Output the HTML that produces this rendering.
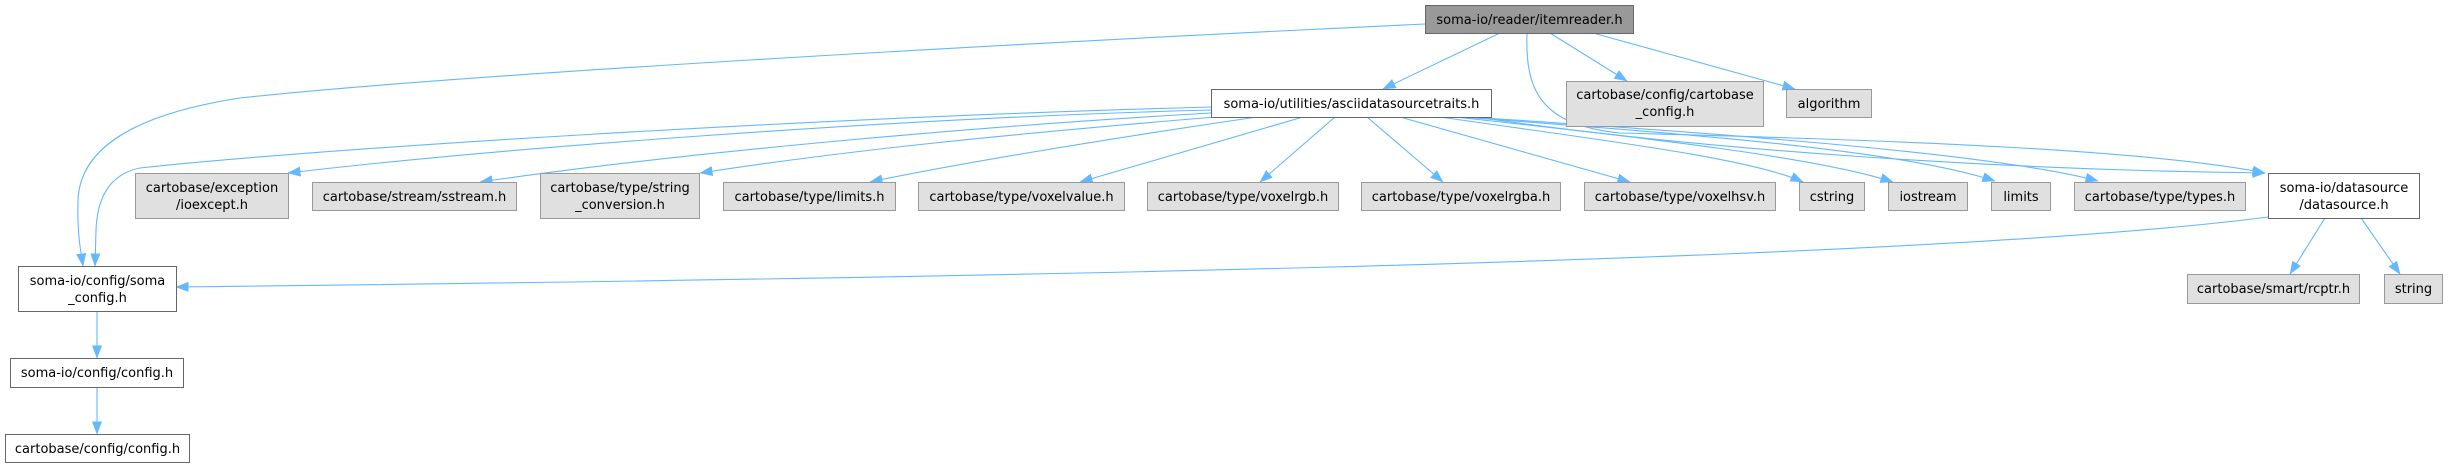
<!DOCTYPE html>
<html>
<head>
<meta charset="utf-8">
<style>
  html, body { margin: 0; padding: 0; background: #ffffff; }
  body { width: 2448px; height: 468px; overflow: hidden; }
  svg { display: block; }
  text { font-family: "DejaVu Sans", "Liberation Sans", sans-serif; font-size: 13px; fill: #000; }
  .e { fill: none; stroke: #63b8ff; stroke-width: 1.1; }
  .root { fill: #999999; stroke: #666666; stroke-width: 1; }
  .grey { fill: #e0e0e0; stroke: #999999; stroke-width: 1; }
  .white { fill: #ffffff; stroke: #666666; stroke-width: 1; }
</style>
</head>
<body>
<svg width="2448" height="468" viewBox="0 0 2448 468" xmlns="http://www.w3.org/2000/svg">
  <defs>
    <marker id="a" markerUnits="userSpaceOnUse" markerWidth="13" markerHeight="10" refX="12.5" refY="4.75" orient="auto">
      <path d="M0,0 L12.5,4.75 L0,9.5 z" fill="#63b8ff" stroke="#63b8ff" stroke-width="0.5"/>
    </marker>
  </defs>

  <!-- edges -->
  <g>
    <path class="e" marker-end="url(#a)" d="M1500,33 L1383,89"/>
    <path class="e" marker-end="url(#a)" d="M1550,33 L1627,81"/>
    <path class="e" marker-end="url(#a)" d="M1593,33 L1795,89"/>
    <path class="e" marker-end="url(#a)" d="M1425,24 C1000,44 450,75 240,98 C130,115 80,150 78,200 C77,235 81,252 83,266"/>
    <path class="e" marker-end="url(#a)" d="M1211,107 C800,118 300,150 140,168 C105,175 97,205 96,230 L95,266"/>
    <path class="e" marker-end="url(#a)" d="M1211,110 C900,118 500,148 288,173"/>
    <path class="e" marker-end="url(#a)" d="M1211,113 C1000,125 700,150 480,182"/>
    <path class="e" marker-end="url(#a)" d="M1215,117 C1000,135 850,150 700,173"/>
    <path class="e" marker-end="url(#a)" d="M1257,117 C1100,140 950,165 870,182"/>
    <path class="e" marker-end="url(#a)" d="M1303,117 L1080,182"/>
    <path class="e" marker-end="url(#a)" d="M1335,117 L1260,182"/>
    <path class="e" marker-end="url(#a)" d="M1367,117 L1443,182"/>
    <path class="e" marker-end="url(#a)" d="M1400,117 L1630,182"/>
    <path class="e" marker-end="url(#a)" d="M1440,117 C1600,140 1750,158 1803,182"/>
    <path class="e" marker-end="url(#a)" d="M1455,117 C1650,138 1820,158 1893,182"/>
    <path class="e" marker-end="url(#a)" d="M1462,117 C1700,135 1900,150 1995,181"/>
    <path class="e" marker-end="url(#a)" d="M1468,117 C1750,135 2000,155 2098,181"/>
    <path class="e" marker-end="url(#a)" d="M1475,117 C1700,150 2000,170 2265,173"/>
    <path class="e" marker-end="url(#a)" d="M1527,33 C1525,90 1540,125 1620,133 C1900,140 2150,150 2265,173"/>
    <path class="e" marker-end="url(#a)" d="M2268,217 C1900,265 800,280 176,287"/>
    <path class="e" marker-end="url(#a)" d="M2325,218 L2290,274"/>
    <path class="e" marker-end="url(#a)" d="M2361,218 L2400,274"/>
    <path class="e" marker-end="url(#a)" d="M97,311 L97,358"/>
    <path class="e" marker-end="url(#a)" d="M97,387 L97,434"/>
  </g>

  <!-- nodes -->
  <g>
    <rect class="root" x="1425.5" y="5.5" width="208" height="28"/>
    <text x="1529.5" y="24" text-anchor="middle">soma-io/reader/itemreader.h</text>

    <rect class="white" x="1211.5" y="89.5" width="280" height="28"/>
    <text x="1351.5" y="108" text-anchor="middle">soma-io/utilities/asciidatasourcetraits.h</text>

    <rect class="grey" x="1566.5" y="81.5" width="197" height="45"/>
    <text x="1665" y="99" text-anchor="middle">cartobase/config/cartobase</text>
    <text x="1665" y="116" text-anchor="middle">_config.h</text>

    <rect class="grey" x="1786.5" y="89.5" width="85" height="28"/>
    <text x="1829" y="108" text-anchor="middle">algorithm</text>

    <rect class="grey" x="135.5" y="173.5" width="153" height="45"/>
    <text x="212" y="192" text-anchor="middle">cartobase/exception</text>
    <text x="212" y="209" text-anchor="middle">/ioexcept.h</text>

    <rect class="grey" x="312.5" y="182.5" width="204" height="28"/>
    <text x="414.5" y="201" text-anchor="middle">cartobase/stream/sstream.h</text>

    <rect class="grey" x="540.5" y="173.5" width="159" height="45"/>
    <text x="620" y="192" text-anchor="middle">cartobase/type/string</text>
    <text x="620" y="209" text-anchor="middle">_conversion.h</text>

    <rect class="grey" x="723.5" y="182.5" width="172" height="28"/>
    <text x="809.5" y="201" text-anchor="middle">cartobase/type/limits.h</text>

    <rect class="grey" x="918.5" y="182.5" width="206" height="28"/>
    <text x="1021.5" y="201" text-anchor="middle">cartobase/type/voxelvalue.h</text>

    <rect class="grey" x="1147.5" y="182.5" width="191" height="28"/>
    <text x="1243" y="201" text-anchor="middle">cartobase/type/voxelrgb.h</text>

    <rect class="grey" x="1361.5" y="182.5" width="199" height="28"/>
    <text x="1461" y="201" text-anchor="middle">cartobase/type/voxelrgba.h</text>

    <rect class="grey" x="1584.5" y="182.5" width="191" height="28"/>
    <text x="1680" y="201" text-anchor="middle">cartobase/type/voxelhsv.h</text>

    <rect class="grey" x="1799.5" y="182.5" width="65" height="28"/>
    <text x="1832" y="201" text-anchor="middle">cstring</text>

    <rect class="grey" x="1888.5" y="182.5" width="79" height="28"/>
    <text x="1928" y="201" text-anchor="middle">iostream</text>

    <rect class="grey" x="1991.5" y="182.5" width="59" height="28"/>
    <text x="2021" y="201" text-anchor="middle">limits</text>

    <rect class="grey" x="2074.5" y="182.5" width="171" height="28"/>
    <text x="2160" y="201" text-anchor="middle">cartobase/type/types.h</text>

    <rect class="white" x="2268.5" y="173.5" width="151" height="45"/>
    <text x="2344" y="192" text-anchor="middle">soma-io/datasource</text>
    <text x="2344" y="209" text-anchor="middle">/datasource.h</text>

    <rect class="white" x="18.5" y="266.5" width="158" height="45"/>
    <text x="97.5" y="285" text-anchor="middle">soma-io/config/soma</text>
    <text x="97.5" y="302" text-anchor="middle">_config.h</text>

    <rect class="white" x="10.5" y="358.5" width="173" height="29"/>
    <text x="97" y="377" text-anchor="middle">soma-io/config/config.h</text>

    <rect class="white" x="5.5" y="434.5" width="184" height="28"/>
    <text x="97.5" y="453" text-anchor="middle">cartobase/config/config.h</text>

    <rect class="grey" x="2187.5" y="274.5" width="172" height="29"/>
    <text x="2273.5" y="293" text-anchor="middle">cartobase/smart/rcptr.h</text>

    <rect class="grey" x="2384.5" y="274.5" width="58" height="29"/>
    <text x="2413.5" y="293" text-anchor="middle">string</text>
  </g>
</svg>
</body>
</html>
